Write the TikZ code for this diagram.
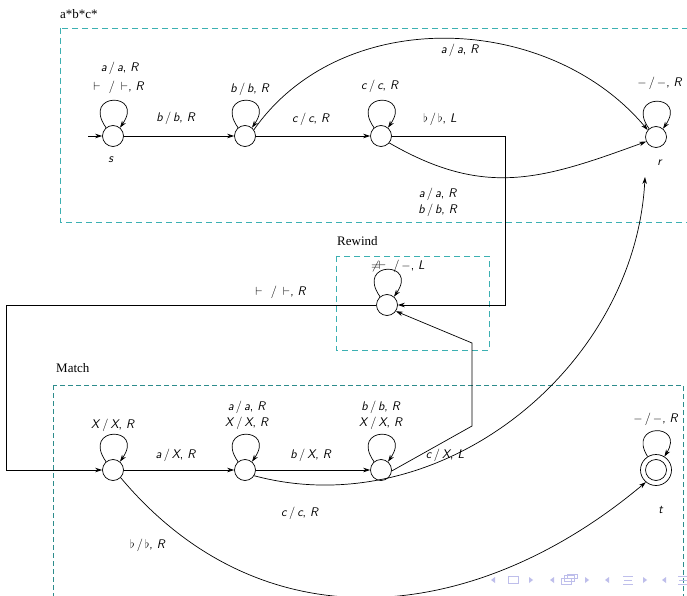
\documentclass[tikz,border=0pt]{standalone}
\usepackage{fontspec}
\setmainfont{Liberation Serif}
\usetikzlibrary{arrows.meta}
\definecolor{boxc}{RGB}{60,176,178}
\definecolor{boxd}{RGB}{45,140,140}
\definecolor{navc}{RGB}{190,190,235}
\newcommand{\trl}[3]{#1\kern2pt/\kern2pt#2, \textit{#3}}
\tikzset{
  st/.style={circle, draw, line width=0.7pt, minimum size=21pt, inner sep=0pt},
  edge/.style={draw, line width=0.7pt, -{Stealth[length=7pt,width=4.5pt]}},
  lab/.style={font=\fontsize{12.5}{15}\selectfont\sffamily, inner sep=1pt, align=center},
  box/.style={draw=boxc, dash pattern=on 6pt off 4pt, line width=0.9pt},
  boxm/.style={draw=boxd, dash pattern=on 5pt off 3pt, line width=0.8pt},
  ttl/.style={font=\fontsize{13}{15}\selectfont, anchor=west, inner sep=0pt},
  nav/.style={fill=navc, draw=none},
  navl/.style={draw=navc, line width=0.9pt},
  lp/.style={edge},
}
\newcommand{\selfloop}[1]{\draw[lp] (#1.130) .. controls +(125:44) and +(55:44) .. (#1.50);}
\begin{document}
\begin{tikzpicture}[x=1pt,y=1pt]
\clip (0,0) rectangle (687,595);
\fill[white] (0,0) rectangle (687,595);

% boxes and titles
\draw[box] (60,567) rectangle (700,373);
\node[ttl] (tA) at (60,581) {a*b*c*};
\draw[box] (336,339) rectangle (489,245);
\node[ttl] (tR) at (337,354) {Rewind};
\draw[boxm] (53,210) rectangle (683,-10);
\node[ttl] (tM) at (56,227) {Match};

% states
\node[st] (s) at (113,459) {};
\node[st] (q1) at (245,459) {};
\node[st] (q2) at (381,459) {};
\node[st] (r) at (656,458) {};
\node[st] (rw) at (387,290) {};
\node[st] (m0) at (113,125) {};
\node[st] (m1) at (245,125) {};
\node[st] (m2) at (381,125) {};
\node[st, minimum size=31pt] (t) at (656,125) {};
\node[st] (ti) at (656,125) {};

% state labels
\node[lab] (sl) at (111,435) {\textit{s}};
\node[lab] (rl) at (660,432) {\textit{r}};
\node[lab] (tl) at (661,85) {\textit{t}};

\coordinate (init) at (88,459);
\coordinate (c1) at (505,459);
\coordinate (c2) at (6,290);
\coordinate (c3) at (472,169);
\coordinate (c4) at (472,252);
\coordinate (rin) at (645,418);

% top part
\draw[edge] (init) -- (s);
\draw[edge] (s) -- (q1);
\draw[edge] (q1) -- (q2);
\selfloop{s}
\selfloop{q1}
\selfloop{q2}
\selfloop{r}
\draw[edge] (q1.35) to[out=55,in=130,looseness=1.0] (r.140);
\draw[edge] (q2.-40) to[out=-30,in=-160,looseness=1.1] (r.-155);
\draw[edge] (q2) -- (c1) |- (rw);

\node[lab] (l1) at (120,527) {\trl{\textit{a}}{\textit{a}}{R}};
\node[lab] (l2) at (119,508) {$\vdash$\kern8pt/\kern6pt$\vdash$, \textit{R}};
\node[lab] (l3) at (176,477) {\trl{\textit{b}}{\textit{b}}{R}};
\node[lab] (l4) at (250,506) {\trl{\textit{b}}{\textit{b}}{R}};
\node[lab] (l5) at (311,476) {\trl{\textit{c}}{\textit{c}}{R}};
\node[lab] (l6) at (380,509) {\trl{\textit{c}}{\textit{c}}{R}};
\node[lab] (l7) at (460,545) {\trl{\textit{a}}{\textit{a}}{R}};
\node[lab] (l8) at (440,476) {\trl{$\flat$}{$\flat$}{L}};
\node[lab] (l9) at (438,393) {\trl{\textit{a}}{\textit{a}}{R}\\[1pt]\trl{\textit{b}}{\textit{b}}{R}};
\node[lab] (l10) at (660,512) {\trl{$-$}{$-$}{R}};

% rewind
\selfloop{rw}
\node[lab] (l11) at (398,329) {$\neq\mkern-2mu\vdash$\kern7pt/\kern2pt$-$, \textit{L}};
\draw[edge] (rw) -- (c2) |- (m0);
\node[lab] (l12) at (281,303) {$\vdash$\kern8pt/\kern6pt$\vdash$, \textit{R}};
\draw[edge] (m2.-5) -- (c3) -- (c4) -- (rw.-35);

% match
\draw[edge] (m0) -- (m1);
\draw[edge] (m1) -- (m2);
\selfloop{m0}
\selfloop{m1}
\selfloop{m2}
\draw[lp] (t.122) .. controls +(122:40) and +(58:40) .. (t.58);
\draw[edge] (m1.-32) to[out=-15,in=-93] (rin);
\draw[edge] (m0.-45) to[out=-50,in=-140,looseness=1.08] (t.-130);

\node[lab] (l13) at (113,170) {\trl{\textit{X}}{\textit{X}}{R}};
\node[lab] (l14) at (176,140) {\trl{\textit{a}}{\textit{X}}{R}};
\node[lab] (l15) at (247,180) {\trl{\textit{a}}{\textit{a}}{R}\\[1pt]\trl{\textit{X}}{\textit{X}}{R}};
\node[lab] (l16) at (311,140) {\trl{\textit{b}}{\textit{X}}{R}};
\node[lab] (l17) at (381,180) {\trl{\textit{b}}{\textit{b}}{R}\\[1pt]\trl{\textit{X}}{\textit{X}}{R}};
\node[lab] (l18) at (445,140) {\trl{\textit{c}}{\textit{X}}{L}};
\node[lab] (l19) at (300,82) {\trl{\textit{c}}{\textit{c}}{R}};
\node[lab] (l20) at (148,50) {\trl{$\flat$}{$\flat$}{R}};
\node[lab] (l21) at (656,176) {\trl{$-$}{$-$}{R}};

% navigation symbols
\foreach \x in {493,552,607,664} \fill[nav] (\x+2,18) -- (\x+2,12) -- (\x-2,15) -- cycle;
\foreach \x in {531,587,645} \fill[nav] (\x-2,18) -- (\x-2,12) -- (\x+2,15) -- cycle;
\draw[navl] (508,11.5) rectangle (518,18.5);
\draw[navl] (561,10.5) rectangle (571,16.5);
\draw[navl] (564,13.5) rectangle (574,19.5);
\draw[navl] (567,16.5) rectangle (577,20.5);
\foreach \x in {628,683} {
  \draw[navl] (\x-5,19) -- (\x+5,19);
  \draw[navl] (\x-4,15) -- (\x+4,15);
  \draw[navl] (\x-5,11) -- (\x+5,11);
}
\end{tikzpicture}
\end{document}
